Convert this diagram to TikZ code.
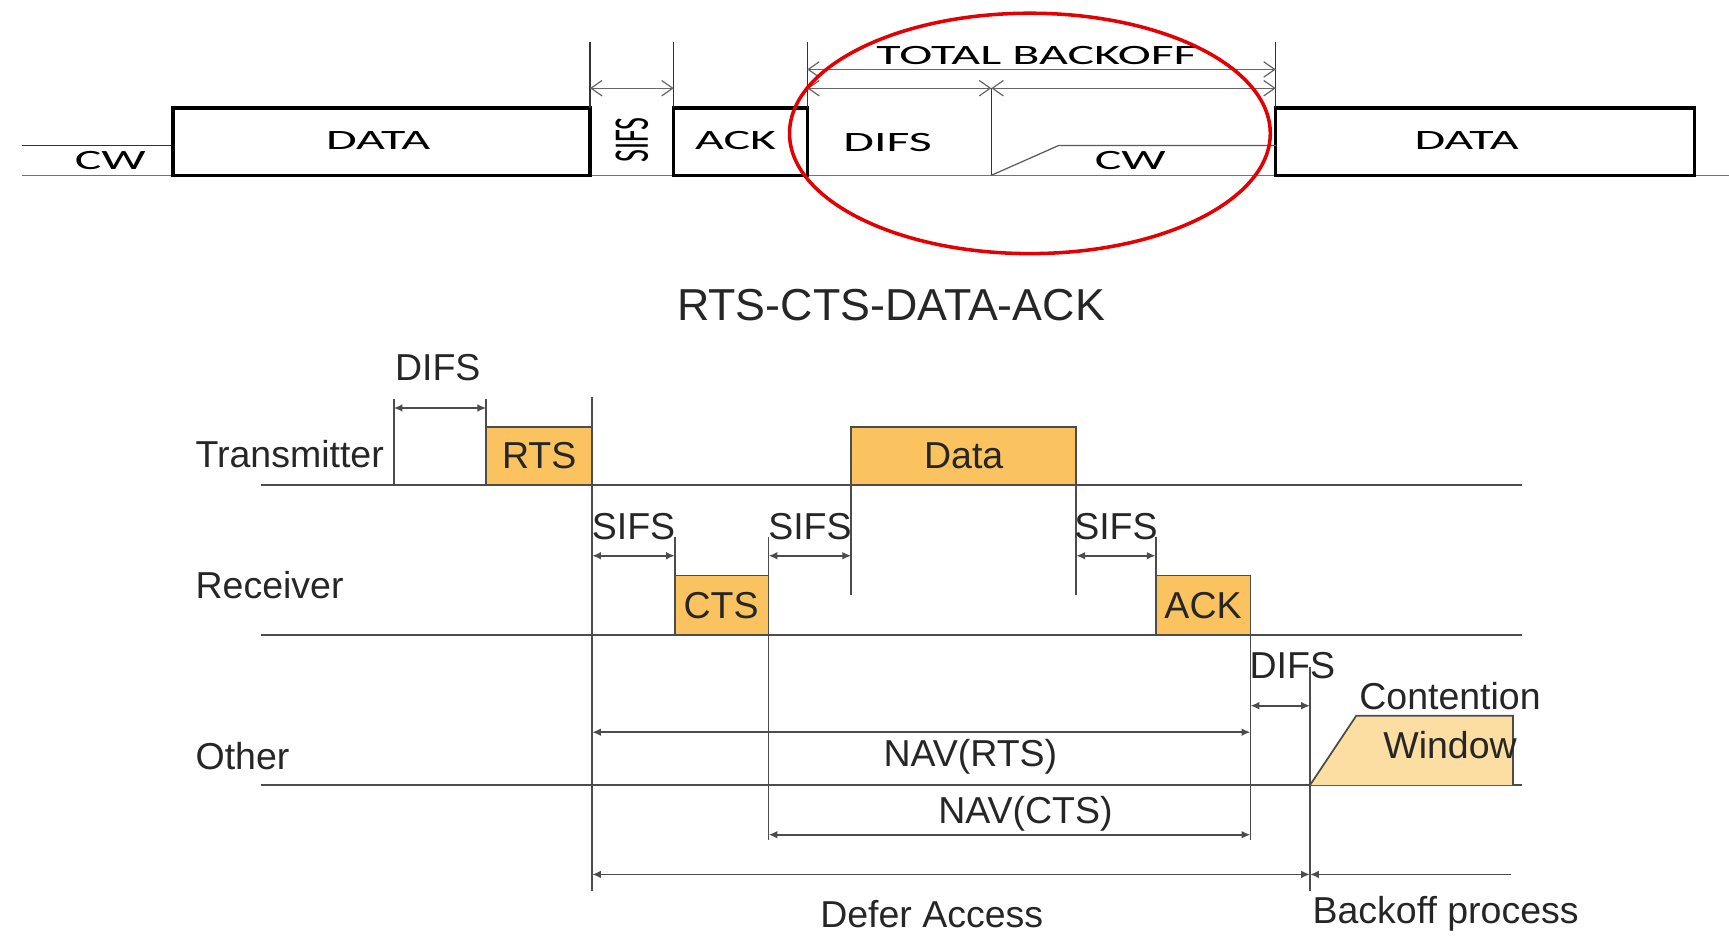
\documentclass[tikz,border=0pt]{standalone}
\usepackage{fontspec}
\setmainfont{Liberation Sans}
\newfontfamily\topfam{Carlito}
\usetikzlibrary{arrows.meta}
\definecolor{boxorange}{RGB}{250,195,95}
\definecolor{cwfill}{RGB}{252,222,162}
\definecolor{ringred}{RGB}{228,0,0}
\tikzset{
  topbox/.style={line width=1.5pt, black},
  topln/.style={line width=0.55pt, black!80},
  topdim/.style={line width=0.55pt, black!60,
    {Straight Barb[length=5pt,width=7pt]}-{Straight Barb[length=5pt,width=7pt]}},
  toplbl/.style={font=\topfam\fontsize{12.7}{14}\selectfont, xscale=1.78, inner sep=0pt},
  tl/.style={line width=0.8pt, black!70},
  frame/.style={tl, fill=boxorange},
  dim/.style={tl, {Latex[length=4pt,width=3.5pt]}-{Latex[length=4pt,width=3.5pt]}},
  lbl/.style={font=\fontsize{17}{20}\selectfont, text=black!85, inner sep=0pt}
}
\begin{document}
\begin{tikzpicture}[x=0.5pt, y=-0.5pt]
  \useasboundingbox (0,0) rectangle (1568,849);
  \clip (0,0) rectangle (1568,849);
  % 上部：DCF 时序
  \draw[topln, black!55] (20,159) -- (1568,159);
  \draw[topln] (20,132) -- (157,132);
  \node[toplbl] (cw0) at (100,146) {CW};
  \draw[topbox] (157,98) rectangle (535,159);
  \node[toplbl] (data0) at (343,127) {DATA};
  \draw[topbox] (611,98) rectangle (732,159);
  \node[toplbl] (ack0) at (667,127) {ACK};
  \draw[topbox] (1157,98) rectangle (1537,159);
  \node[toplbl] (data1) at (1330,127) {DATA};
  % 竖直分隔线
  \foreach \x in {535,611,732,1157} {
      \draw[topln] (\x,38) -- (\x,98);
  }
  \draw[topln] (899,80) -- (899,159);
  % 竞争窗口斜坡
  \draw[topln, black!65] (899,159) -- (960,132) -- (1157,132);
  \node[toplbl] (cw1) at (1025,146) {CW};
  % 间隔标注
  \draw[topdim] (535,80) -- (611,80);
  \node[toplbl, rotate=90] (sifs0) at (573,127) {SIFS};
  \draw[topdim] (732,80) -- (899,80);
  \node[toplbl] (difs0) at (805,129) {DIFS};
  \draw[topdim] (899,80) -- (1157,80);
  \draw[topdim] (732,63) -- (1157,63);
  \node[toplbl] (total) at (940,50) {TOTAL BACKOFF};
  % 红色椭圆
  \draw[ringred, line width=1.6pt] (934,121) ellipse [x radius=218, y radius=109];

  % 下部：RTS-CTS-DATA-ACK
  \node[font=\fontsize{20.3}{24}\selectfont, text=black!85, inner sep=0pt] (title) at (808,277) {RTS-CTS-DATA-ACK};
  \foreach \y in {440,576,712} {
      \draw[tl] (237,\y) -- (1380,\y);
  }
  \node[lbl, anchor=west] (tx) at (177,412) {Transmitter};
  \node[lbl, anchor=west] (rx) at (177,531) {Receiver};
  \node[lbl, anchor=west] (oth) at (177,686) {Other};
  % 发送端
  \draw[tl] (357,362) -- (357,440);
  \draw[tl] (441,362) -- (441,387);
  \draw[dim] (357,370) -- (441,370);
  \node[lbl] (difs1) at (397,333) {DIFS};
  \draw[frame] (441,387) rectangle (537,440);
  \node[lbl] (rts) at (489,413) {RTS};
  \draw[frame] (772,387) rectangle (976,440);
  \node[lbl] (data) at (874,413) {Data};
  % 接收端
  \draw[frame] (612,522) rectangle (697,576);
  \node[lbl] (cts) at (654,549) {CTS};
  \draw[frame] (1048,522) rectangle (1134,576);
  \node[lbl] (ack) at (1091,549) {ACK};
  % 竖直时刻线
  \draw[tl] (537,360) -- (537,808);
  \draw[tl] (612,487) -- (612,522);
  \draw[tl] (697,487) -- (697,762);
  \draw[tl] (772,440) -- (772,540);
  \draw[tl] (976,440) -- (976,540);
  \draw[tl] (1048,487) -- (1048,522);
  \draw[tl] (1134,576) -- (1134,762);
  \draw[tl] (1188,605) -- (1188,808);
  % SIFS 间隔
  \foreach \a/\b in {537/612, 697/772, 976/1048} {
      \draw[dim] (\a,504) -- (\b,504);
      \node[lbl] (sifs\a) at ({(\a+\b)/2},478) {SIFS};
  }
  % 其他站点
  \draw[dim] (1134,640) -- (1188,640);
  \node[lbl] (difs2) at (1172,604) {DIFS};
  \draw[dim] (537,664) -- (1134,664);
  \node[lbl] (navr) at (880,686) {NAV(RTS)};
  \draw[dim] (697,757) -- (1134,757);
  \node[lbl] (navc) at (930,738) {NAV(CTS)};
  \draw[dim] (537,793) -- (1188,793);
  \node[lbl] (defer) at (845,829) {Defer Access};
  \draw[tl, -{Latex[length=4pt,width=3.5pt]}] (1370,793) -- (1188,793);
  \node[lbl, anchor=west] (back) at (1190,829) {Backoff process};
  % 竞争窗口
  \draw[tl, fill=cwfill] (1188,712) -- (1230,649) -- (1372,649) -- (1372,712);
  \node[lbl] (cont) at (1315,631) {Contention};
  \node[lbl] (win) at (1315,676) {Window};
\end{tikzpicture}
\end{document}
